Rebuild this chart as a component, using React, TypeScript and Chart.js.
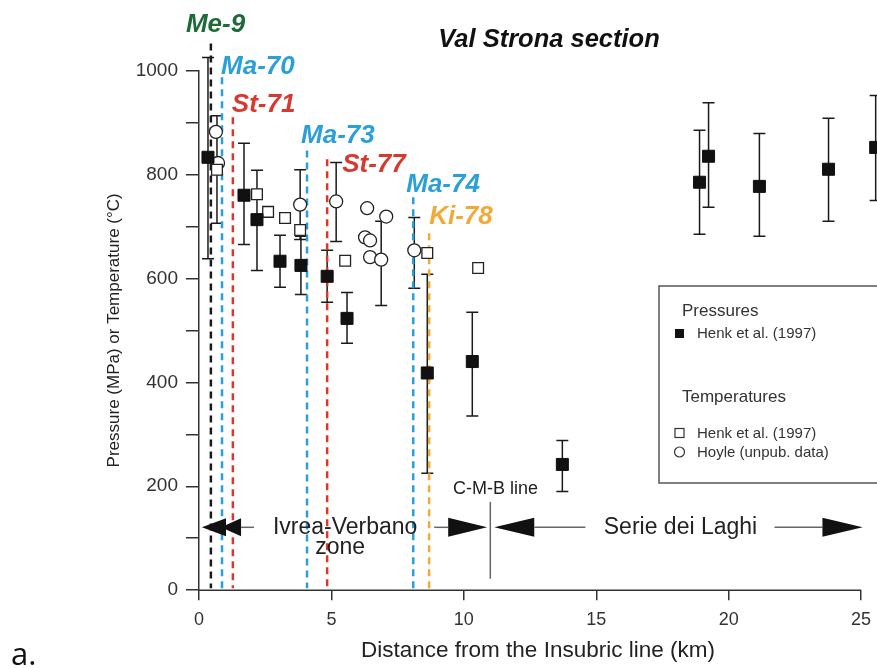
import React, { useEffect, useRef } from 'react';
import { Chart, registerables } from 'chart.js';

Chart.register(...registerables);

// ---------- data ----------
// Pressures, Henk et al. (1997) — filled squares with error bars
const pressureX = [0.34, 1.70, 2.19, 3.06, 3.85, 4.84, 5.59, 8.62, 10.32, 13.72, 18.90, 19.24, 21.16, 23.77, 25.55];
const pressureY = [833, 760, 713, 633, 625, 604, 523, 418, 440, 242, 785, 835, 777, 810, 852];
const pressureLow = [638, 665, 615, 583, 569, 554, 475, 225, 335, 190, 685, 737, 681, 710, 750];
const pressureHigh = [1025, 860, 808, 683, 681, 654, 573, 608, 535, 288, 885, 938, 879, 908, 952];

// Temperatures, Henk et al. (1997) — open squares
const henkTempX = [0.68, 2.19, 2.61, 3.25, 3.82, 5.52, 8.62, 10.54];
const henkTempY = [809, 762, 728, 716, 693, 634, 649, 620];
const henkTempLow = [706, null, null, null, null, null, null, null];
const henkTempHigh = [913, null, null, null, null, null, null, null];

// Temperatures, Hoyle (unpub. data) — open circles
const hoyleX = [0.64, 0.72, 3.82, 5.18, 6.35, 6.27, 6.46, 6.46, 6.88, 7.07, 8.13];
const hoyleY = [882, 822, 742, 748, 735, 679, 673, 641, 636, 719, 654];
const hoyleLow = [null, null, 675, 671, null, null, null, null, 548, null, 581];
const hoyleHigh = [null, null, 809, 823, null, null, null, null, 710, null, 717];

// Sample locations (dashed lines)
const sampleNames = ['Me-9', 'Ma-70', 'St-71', 'Ma-73', 'St-77', 'Ma-74', 'Ki-78'];
const sampleX = [0.45, 0.87, 1.28, 4.08, 4.84, 8.09, 8.69];
const sampleTop = [1052, 987, 910, 846, 829, 756, 687];

// Axis ticks
const xMin = 0;
const xMax = 25.6;
const xTickStep = 5;
const yTickStep = 100;
const yLabelStep = 200;

// ---------- styles ----------
const FONT = '"Liberation Sans", Arial, Helvetica, sans-serif';
const sampleLineColors = ['#1a1a1a', '#2a9fd8', '#d8392e', '#2a9fd8', '#d8392e', '#2a9fd8', '#f0aa3a'];
const sampleTextColors = ['#1d6b36', '#2a9fd8', '#d8392e', '#2a9fd8', '#d8392e', '#2a9fd8', '#f0aa3a'];
// label offsets in px from the top of each dashed line: [dx, dy(baseline)]
const sampleLabelOffsets = [[-25, -11], [-1, -3], [-1, -5], [-6, -8], [15, 13], [-7, -5], [0, -9]];

const overlay = {
  id: 'overlay',
  afterLayout(chart: any) {
    // let the plot area run to the right edge of the canvas (as in the cropped original)
    const xs = chart.scales.x;
    const ca = chart.chartArea;
    xs.right = chart.width;
    xs.width = xs.right - xs.left;
    ca.right = chart.width;
    ca.width = ca.right - ca.left;
    xs.configure();
  },
  beforeDatasetsDraw(chart: any) {
    const { ctx } = chart;
    const xs = chart.scales.x;
    const ys = chart.scales.y;
    ctx.save();
    // error bars
    ctx.strokeStyle = '#1a1a1a';
    ctx.lineWidth = 1.5;
    const bars = (X: number[], lo: (number | null)[], hi: (number | null)[]) => {
      X.forEach((xv, i) => {
        const l = lo[i];
        const h = hi[i];
        if (l == null || h == null) return;
        const px = xs.getPixelForValue(xv);
        const p1 = ys.getPixelForValue(l);
        const p2 = ys.getPixelForValue(h);
        ctx.beginPath();
        ctx.moveTo(px, p1);
        ctx.lineTo(px, p2);
        ctx.moveTo(px - 6, p1);
        ctx.lineTo(px + 6, p1);
        ctx.moveTo(px - 6, p2);
        ctx.lineTo(px + 6, p2);
        ctx.stroke();
      });
    };
    bars(pressureX, pressureLow, pressureHigh);
    bars(henkTempX, henkTempLow, henkTempHigh);
    bars(hoyleX, hoyleLow, hoyleHigh);

    // dashed sample lines
    ctx.lineWidth = 2.5;
    ctx.setLineDash([7, 5]);
    sampleX.forEach((sx, i) => {
      const px = xs.getPixelForValue(sx);
      ctx.strokeStyle = sampleLineColors[i];
      ctx.beginPath();
      ctx.moveTo(px, ys.getPixelForValue(sampleTop[i]));
      ctx.lineTo(px, ys.getPixelForValue(0) - 2);
      ctx.stroke();
    });
    ctx.restore();
  },
  afterDraw(chart: any) {
    const { ctx } = chart;
    const xs = chart.scales.x;
    const ys = chart.scales.y;
    ctx.save();

    // x axis line (0..25)
    ctx.strokeStyle = '#333';
    ctx.lineWidth = 1.5;
    ctx.beginPath();
    ctx.moveTo(xs.getPixelForValue(0), ys.getPixelForValue(0));
    ctx.lineTo(xs.getPixelForValue(25), ys.getPixelForValue(0));
    ctx.stroke();

    // sample labels
    ctx.font = `bold italic 26px ${FONT}`;
    ctx.textBaseline = 'alphabetic';
    ctx.textAlign = 'left';
    sampleNames.forEach((name, i) => {
      const px = xs.getPixelForValue(sampleX[i]);
      const py = ys.getPixelForValue(sampleTop[i]);
      ctx.fillStyle = sampleTextColors[i];
      ctx.fillText(name, px + sampleLabelOffsets[i][0], py + sampleLabelOffsets[i][1]);
    });

    // title
    ctx.fillStyle = '#111';
    ctx.font = `bold italic 25.5px ${FONT}`;
    ctx.textAlign = 'center';
    ctx.fillText('Val Strona section', 549, 47);

    // legend box
    ctx.strokeStyle = '#555';
    ctx.lineWidth = 1.5;
    ctx.strokeRect(659, 286, 260, 197);
    ctx.textAlign = 'left';
    ctx.fillStyle = '#333';
    ctx.font = `17px ${FONT}`;
    ctx.fillText('Pressures', 682, 316);
    ctx.fillText('Temperatures', 682, 402);
    ctx.font = `15px ${FONT}`;
    ctx.fillText('Henk et al. (1997)', 697, 338);
    ctx.fillText('Henk et al. (1997)', 697, 438);
    ctx.fillText('Hoyle (unpub. data)', 697, 457);
    ctx.fillStyle = '#111';
    ctx.fillRect(675, 329, 9, 9);
    ctx.strokeStyle = '#333';
    ctx.lineWidth = 1.2;
    ctx.strokeRect(675, 428.5, 9, 9);
    ctx.beginPath();
    ctx.arc(679.5, 452, 5, 0, Math.PI * 2);
    ctx.stroke();

    // zone annotations
    const zy = ys.getPixelForValue(121);
    const X = (v: number) => xs.getPixelForValue(v);
    const head = (tip: number, base: number, half: number) => {
      ctx.beginPath();
      ctx.moveTo(X(tip), zy);
      ctx.lineTo(X(base), zy - half);
      ctx.lineTo(X(base), zy + half);
      ctx.closePath();
      ctx.fill();
    };
    const seg = (a: number, b: number) => {
      ctx.beginPath();
      ctx.moveTo(X(a), zy);
      ctx.lineTo(X(b), zy);
      ctx.stroke();
    };
    ctx.fillStyle = '#111';
    ctx.strokeStyle = '#666';
    ctx.lineWidth = 1.5;
    head(0.11, 1.02, 9);
    head(0.83, 1.59, 9);
    seg(1.59, 2.08);
    seg(8.88, 9.41);
    head(10.88, 9.41, 9.5);
    head(11.15, 12.66, 9.5);
    seg(12.66, 14.59);
    seg(21.73, 23.54);
    head(25.06, 23.54, 9.5);
    // C-M-B line
    ctx.beginPath();
    ctx.moveTo(X(11.0), ys.getPixelForValue(170));
    ctx.lineTo(X(11.0), ys.getPixelForValue(22));
    ctx.stroke();

    ctx.fillStyle = '#222';
    ctx.textAlign = 'center';
    ctx.font = `23px ${FONT}`;
    ctx.textBaseline = 'middle';
    ctx.fillText('Ivrea-Verbano', X(5.52), zy);
    ctx.fillText('Serie dei Laghi', X(18.18), zy);
    ctx.textBaseline = 'alphabetic';
    ctx.fillText('zone', X(5.33), zy + 27);
    ctx.font = `18px ${FONT}`;
    ctx.fillText('C-M-B line', X(11.2), ys.getPixelForValue(185));

    // panel letter
    ctx.textAlign = 'left';
    ctx.fillStyle = '#111';
    ctx.font = `31px "Open Sans", ${FONT}`;
    ctx.fillText('a.', 11, 665);
    ctx.restore();
  },
};

export default function App() {
  const ref = useRef<HTMLCanvasElement>(null);
  useEffect(() => {
    if (!ref.current) return;
    const mk = (xArr: number[], yArr: number[]) => xArr.map((v, i) => ({ x: v, y: yArr[i] }));
    const chart = new Chart(ref.current, {
      type: 'scatter',
      data: {
        datasets: [
          {
            label: 'Pressures — Henk et al. (1997)',
            data: mk(pressureX, pressureY),
            pointStyle: 'rect',
            pointRadius: 8.5,
            backgroundColor: '#111',
            borderColor: '#111',
            borderWidth: 1,
            clip: false as any,
          },
          {
            label: 'Temperatures — Henk et al. (1997)',
            data: mk(henkTempX, henkTempY),
            pointStyle: 'rect',
            pointRadius: 7.6,
            backgroundColor: '#fff',
            borderColor: '#222',
            borderWidth: 1.3,
            clip: false as any,
          },
          {
            label: 'Temperatures — Hoyle (unpub. data)',
            data: mk(hoyleX, hoyleY),
            pointStyle: 'circle',
            pointRadius: 6.5,
            backgroundColor: '#fff',
            borderColor: '#222',
            borderWidth: 1.3,
            clip: false as any,
          },
        ],
      },
      options: {
        animation: false,
        responsive: false,
        events: [],
        layout: { padding: { left: 103.8, right: 0, top: 70.5, bottom: 5.7 } },
        plugins: { legend: { display: false }, tooltip: { enabled: false }, title: { display: false } },
        scales: {
          x: {
            type: 'linear',
            min: xMin,
            max: xMax,
            border: { display: false },
            grid: { drawOnChartArea: false, drawTicks: true, tickLength: 10, color: '#333', lineWidth: 1.5 },
            ticks: {
              stepSize: xTickStep,
              includeBounds: false,
              padding: 9,
              color: '#333',
              font: { family: FONT, size: 18 },
            },
            title: {
              display: true,
              text: 'Distance from the Insubric line (km)',
              color: '#222',
              font: { family: FONT, size: 22.5, lineHeight: 1.0 },
              padding: { top: 0, bottom: 0 },
            },
            afterFit: (s: any) => {
              s.paddingRight = 0;
              s.paddingLeft = 0;
            },
          },
          y: {
            type: 'linear',
            min: 0,
            max: 1000,
            border: { display: true, color: '#333', width: 1.5 },
            grid: { drawOnChartArea: false, drawTicks: true, tickLength: 13, color: '#333', lineWidth: 1.5 },
            ticks: {
              stepSize: yTickStep,
              padding: 8,
              color: '#333',
              font: { family: FONT, size: 19 },
              callback: (v: any) => (Number(v) % yLabelStep === 0 ? String(v) : ''),
            },
            title: {
              display: true,
              text: 'Pressure (MPa) or Temperature (°C)',
              color: '#222',
              font: { family: FONT, size: 17 },
              padding: { top: 0, bottom: 3.5 },
            },
          },
        },
      },
      plugins: [overlay],
    } as any);
    return () => chart.destroy();
  }, []);
  return (
    <div style={{ position: 'absolute', left: 0, top: 0, width: 877, height: 668, background: '#fff' }}>
      <canvas ref={ref} width={877} height={668} style={{ display: 'block' }} />
    </div>
  );
}
